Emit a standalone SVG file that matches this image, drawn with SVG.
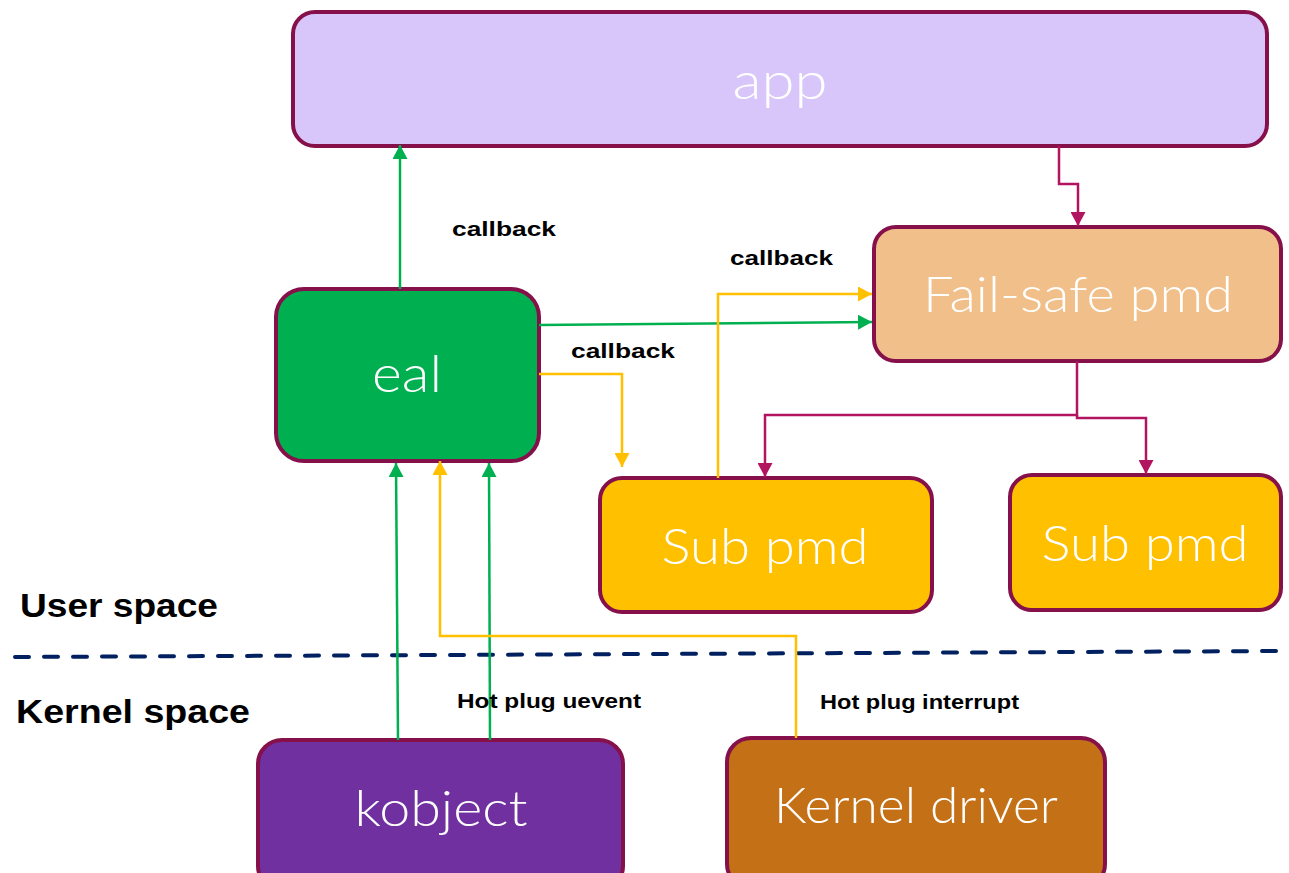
<svg xmlns="http://www.w3.org/2000/svg" width="1289" height="873" viewBox="0 0 1289 873">
<defs>
<style>
.node{stroke:#85104A;stroke-width:4}
.nt{font-family:Lato,"Open Sans","Liberation Sans",sans-serif;font-weight:300;fill:#ffffff;text-anchor:middle}
.lbl{font-family:"Liberation Sans",Arial,sans-serif;font-weight:bold;fill:#000000}
.g{stroke:#00B050;stroke-width:2.5;fill:none}
.y{stroke:#FFC000;stroke-width:2.5;fill:none}
.m{stroke:#B3145F;stroke-width:2.5;fill:none}
</style>
<marker id="ag" markerUnits="userSpaceOnUse" markerWidth="15" markerHeight="15" refX="14" refY="7.5" orient="auto"><path d="M0,0 L14,7.5 L0,15 z" fill="#00B050"/></marker>
<marker id="ay" markerUnits="userSpaceOnUse" markerWidth="15" markerHeight="15" refX="14" refY="7.5" orient="auto"><path d="M0,0 L14,7.5 L0,15 z" fill="#FFC000"/></marker>
<marker id="am" markerUnits="userSpaceOnUse" markerWidth="15" markerHeight="15" refX="14" refY="7.5" orient="auto"><path d="M0,0 L14,7.5 L0,15 z" fill="#B3145F"/></marker>
</defs>
<rect width="1289" height="873" fill="#ffffff"/>

<g id="app"><rect class="node" x="293" y="12" width="974" height="134" rx="22" fill="#D8C6FA"/><text class="nt" x="780" y="99" font-size="52" textLength="95" lengthAdjust="spacingAndGlyphs">app</text></g>
<g id="failsafe"><rect class="node" x="874" y="227" width="407" height="134" rx="22" fill="#F1BF8A"/><text class="nt" x="1078" y="312" font-size="50" textLength="310" lengthAdjust="spacingAndGlyphs">Fail-safe pmd</text></g>
<g id="eal"><rect class="node" x="276" y="289" width="263" height="172" rx="28" fill="#00AF50"/><text class="nt" x="407" y="392" font-size="52" textLength="70" lengthAdjust="spacingAndGlyphs">eal</text></g>
<g id="subpmd1"><rect class="node" x="600" y="478" width="332" height="134" rx="22" fill="#FFC000"/><text class="nt" x="765" y="564" font-size="50" textLength="207" lengthAdjust="spacingAndGlyphs">Sub pmd</text></g>
<g id="subpmd2"><rect class="node" x="1010" y="475" width="271" height="135" rx="22" fill="#FFC000"/><text class="nt" x="1145" y="561" font-size="50" textLength="207" lengthAdjust="spacingAndGlyphs">Sub pmd</text></g>
<g id="kobject"><rect class="node" x="258" y="740" width="365" height="150" rx="24" fill="#7030A0"/><text class="nt" x="441" y="826" font-size="50" textLength="173" lengthAdjust="spacingAndGlyphs">kobject</text></g>
<g id="kerneldriver"><rect class="node" x="727" y="738" width="378" height="150" rx="24" fill="#C47016"/><text class="nt" x="916" y="823" font-size="50" textLength="284" lengthAdjust="spacingAndGlyphs">Kernel driver</text></g>

<g id="divider"><line x1="15" y1="657" x2="1284" y2="651" stroke="#002060" stroke-width="4" stroke-dasharray="14 15" stroke-linecap="round"/></g>

<g id="connectors">
<polyline class="g" points="400,289 400,145" marker-end="url(#ag)"/>
<polyline class="g" points="539,325 872,322" marker-end="url(#ag)"/>
<polyline class="y" points="718,478 718,294 872,294" marker-end="url(#ay)"/>
<polyline class="y" points="539,374 622,374 622,467" marker-end="url(#ay)"/>
<polyline class="m" points="1059,146 1059,184 1078,184 1078,226" marker-end="url(#am)"/>
<polyline class="m" points="1077,361 1077,415 765,415 765,477" marker-end="url(#am)"/>
<polyline class="m" points="1077,415 1077,418 1146,418 1146,474" marker-end="url(#am)"/>
<polyline class="g" stroke-width="2" points="398,740 396,463" marker-end="url(#ag)"/>
<polyline class="g" stroke-width="2" points="490,740 489,463" marker-end="url(#ag)"/>
<polyline class="y" stroke-width="1.8" points="796,738 796,636 440,636 440,461" marker-end="url(#ay)"/>
</g>

<g id="labels">
<text class="lbl" x="452" y="236" font-size="20" textLength="104" lengthAdjust="spacingAndGlyphs">callback</text>
<text class="lbl" x="730" y="265" font-size="20" textLength="103" lengthAdjust="spacingAndGlyphs">callback</text>
<text class="lbl" x="571" y="358" font-size="20" textLength="104" lengthAdjust="spacingAndGlyphs">callback</text>
<text class="lbl" x="20" y="617" font-size="33" textLength="198" lengthAdjust="spacingAndGlyphs">User space</text>
<text class="lbl" x="16" y="723" font-size="33" textLength="234" lengthAdjust="spacingAndGlyphs">Kernel space</text>
<text class="lbl" x="457" y="708" font-size="20" textLength="184" lengthAdjust="spacingAndGlyphs">Hot plug uevent</text>
<text class="lbl" x="820" y="709" font-size="20" textLength="199" lengthAdjust="spacingAndGlyphs">Hot plug interrupt</text>
</g>
</svg>
